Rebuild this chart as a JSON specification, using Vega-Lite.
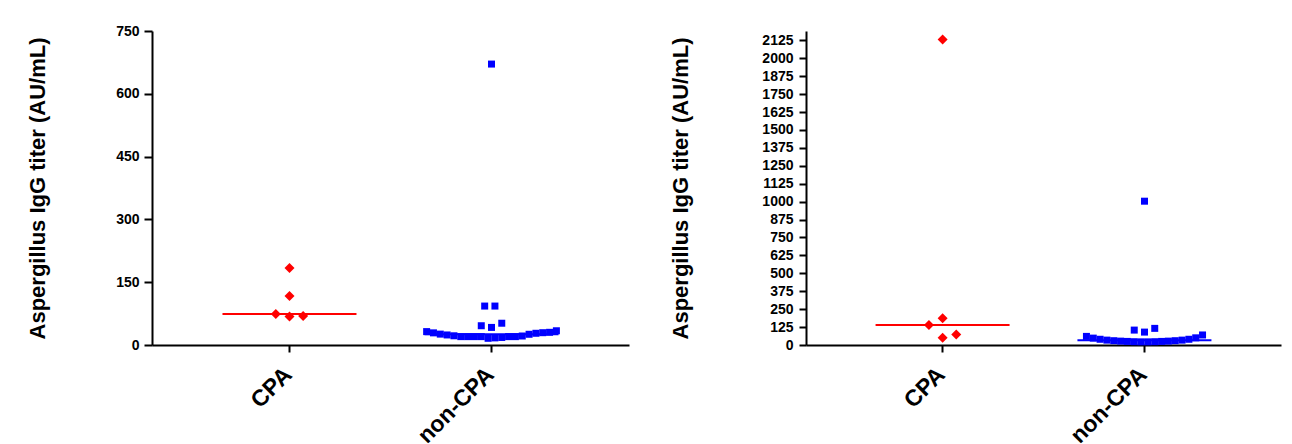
{
  "$schema": "https://vega.github.io/schema/vega-lite/v6.json",
  "background": "white",
  "padding": {"left": 26, "top": 24, "right": 5, "bottom": 5},
  "config": {
    "view": {"stroke": null},
    "font": "Liberation Sans",
    "axis": {
      "grid": false,
      "domainColor": "black",
      "domainWidth": 2,
      "tickColor": "black",
      "tickWidth": 2,
      "labelColor": "black",
      "labelFont": "Liberation Sans",
      "labelFontWeight": "bold",
      "titleColor": "black",
      "titleFont": "Liberation Sans",
      "titleFontWeight": "bold"
    }
  },
  "datasets": {
    "left": [
      {"group": "CPA", "slot": 0, "value": 184},
      {"group": "CPA", "slot": 0, "value": 117},
      {"group": "CPA", "slot": -4, "value": 74},
      {"group": "CPA", "slot": 0, "value": 68},
      {"group": "CPA", "slot": 4, "value": 69},
      {"group": "non-CPA", "slot": 0, "value": 671},
      {"group": "non-CPA", "slot": -2, "value": 93},
      {"group": "non-CPA", "slot": 1, "value": 93},
      {"group": "non-CPA", "slot": -3, "value": 46},
      {"group": "non-CPA", "slot": 0, "value": 42},
      {"group": "non-CPA", "slot": 3, "value": 52},
      {"group": "non-CPA", "slot": -19, "value": 32},
      {"group": "non-CPA", "slot": -17, "value": 29},
      {"group": "non-CPA", "slot": -15, "value": 26},
      {"group": "non-CPA", "slot": -13, "value": 24},
      {"group": "non-CPA", "slot": -11, "value": 22},
      {"group": "non-CPA", "slot": -9, "value": 20},
      {"group": "non-CPA", "slot": -7, "value": 20},
      {"group": "non-CPA", "slot": -5, "value": 20},
      {"group": "non-CPA", "slot": -3, "value": 20},
      {"group": "non-CPA", "slot": -1, "value": 16},
      {"group": "non-CPA", "slot": 1, "value": 17},
      {"group": "non-CPA", "slot": 3, "value": 18},
      {"group": "non-CPA", "slot": 5, "value": 20},
      {"group": "non-CPA", "slot": 7, "value": 20},
      {"group": "non-CPA", "slot": 9, "value": 21.5},
      {"group": "non-CPA", "slot": 11, "value": 25.6},
      {"group": "non-CPA", "slot": 13, "value": 28},
      {"group": "non-CPA", "slot": 15, "value": 29.4},
      {"group": "non-CPA", "slot": 17, "value": 30.3},
      {"group": "non-CPA", "slot": 19, "value": 34}
    ],
    "right": [
      {"group": "CPA", "slot": 0, "value": 2130},
      {"group": "CPA", "slot": 0, "value": 186},
      {"group": "CPA", "slot": -4, "value": 139},
      {"group": "CPA", "slot": 0, "value": 51},
      {"group": "CPA", "slot": 4, "value": 74},
      {"group": "non-CPA", "slot": 0, "value": 1003},
      {"group": "non-CPA", "slot": -3, "value": 104},
      {"group": "non-CPA", "slot": 3, "value": 116},
      {"group": "non-CPA", "slot": 0, "value": 90},
      {"group": "non-CPA", "slot": -17, "value": 60},
      {"group": "non-CPA", "slot": -15, "value": 48},
      {"group": "non-CPA", "slot": -13, "value": 40},
      {"group": "non-CPA", "slot": -11, "value": 34},
      {"group": "non-CPA", "slot": -9, "value": 30},
      {"group": "non-CPA", "slot": -7, "value": 27},
      {"group": "non-CPA", "slot": -5, "value": 25},
      {"group": "non-CPA", "slot": -3, "value": 23},
      {"group": "non-CPA", "slot": -1, "value": 22},
      {"group": "non-CPA", "slot": 1, "value": 22},
      {"group": "non-CPA", "slot": 3, "value": 23},
      {"group": "non-CPA", "slot": 5, "value": 25},
      {"group": "non-CPA", "slot": 7, "value": 27},
      {"group": "non-CPA", "slot": 9, "value": 30},
      {"group": "non-CPA", "slot": 11, "value": 34},
      {"group": "non-CPA", "slot": 13, "value": 40},
      {"group": "non-CPA", "slot": 15, "value": 50},
      {"group": "non-CPA", "slot": 17, "value": 70}
    ]
  },
  "bounds": "flush",
  "spacing": 177,
  "hconcat": [
    {
      "width": 477,
      "height": 314,
      "data": {"name": "left"},
      "encoding": {
        "x": {
          "field": "group", "type": "nominal",
          "scale": {"domain": ["CPA", "non-CPA"], "paddingInner": 0.307, "paddingOuter": 0.334},
          "axis": {"title": null, "labelAngle": -45, "labelFontSize": 23, "tickSize": 7, "labelPadding": 11, "labelOffset": -9}
        },
        "color": {"field": "group", "type": "nominal", "scale": {"domain": ["CPA", "non-CPA"], "range": ["#FF0000", "#0000FF"]}, "legend": null}
      },
      "layer": [
        {
          "mark": {"type": "tick", "size": 134, "thickness": 2, "opacity": 1},
          "encoding": {
            "y": {"aggregate": "median", "field": "value", "type": "quantitative",
              "scale": {"domain": [0, 750], "nice": false},
              "axis": {"title": "Aspergillus IgG titer (AU/mL)", "values": [0, 150, 300, 450, 600, 750], "format": "d", "tickSize": 8, "labelPadding": 5, "labelFontSize": 14, "titleFontSize": 22, "titlePadding": 66}}
          }
        },
        {
          "mark": {"type": "point", "filled": true, "opacity": 1},
          "encoding": {
            "y": {"field": "value", "type": "quantitative",
              "scale": {"domain": [0, 750], "nice": false},
              "axis": {"title": "Aspergillus IgG titer (AU/mL)", "values": [0, 150, 300, 450, 600, 750], "format": "d", "tickSize": 8, "labelPadding": 5, "labelFontSize": 14, "titleFontSize": 22, "titlePadding": 66}},
            "xOffset": {"field": "slot", "type": "nominal", "scale": {"domain": [-20,-19,-18,-17,-16,-15,-14,-13,-12,-11,-10,-9,-8,-7,-6,-5,-4,-3,-2,-1,0,1,2,3,4,5,6,7,8,9,10,11,12,13,14,15,16,17,18,19,20]}},
            "shape": {"field": "group", "type": "nominal", "scale": {"domain": ["CPA", "non-CPA"], "range": ["diamond", "square"]}, "legend": null},
            "size": {"field": "group", "type": "nominal", "scale": {"domain": ["CPA", "non-CPA"], "range": [100, 49]}, "legend": null}
          }
        }
      ]
    },
    {
      "width": 475,
      "height": 314,
      "data": {"name": "right"},
      "encoding": {
        "x": {
          "field": "group", "type": "nominal",
          "scale": {"domain": ["CPA", "non-CPA"], "paddingInner": 0.307, "paddingOuter": 0.33},
          "axis": {"title": null, "labelAngle": -45, "labelFontSize": 23, "tickSize": 7, "labelPadding": 11, "labelOffset": -9}
        },
        "color": {"field": "group", "type": "nominal", "scale": {"domain": ["CPA", "non-CPA"], "range": ["#FF0000", "#0000FF"]}, "legend": null}
      },
      "layer": [
        {
          "mark": {"type": "tick", "size": 134, "thickness": 2, "opacity": 1},
          "encoding": {
            "y": {"aggregate": "median", "field": "value", "type": "quantitative",
              "scale": {"domain": [0, 2190], "nice": false},
              "axis": {"title": "Aspergillus IgG titer (AU/mL)", "values": [0, 125, 250, 375, 500, 625, 750, 875, 1000, 1125, 1250, 1375, 1500, 1625, 1750, 1875, 2000, 2125], "format": "d", "tickSize": 7, "labelPadding": 6, "labelFontSize": 14, "titleFontSize": 22, "titlePadding": 69}}
          }
        },
        {
          "mark": {"type": "point", "filled": true, "opacity": 1},
          "encoding": {
            "y": {"field": "value", "type": "quantitative",
              "scale": {"domain": [0, 2190], "nice": false},
              "axis": {"title": "Aspergillus IgG titer (AU/mL)", "values": [0, 125, 250, 375, 500, 625, 750, 875, 1000, 1125, 1250, 1375, 1500, 1625, 1750, 1875, 2000, 2125], "format": "d", "tickSize": 7, "labelPadding": 6, "labelFontSize": 14, "titleFontSize": 22, "titlePadding": 69}},
            "xOffset": {"field": "slot", "type": "nominal", "scale": {"domain": [-20,-19,-18,-17,-16,-15,-14,-13,-12,-11,-10,-9,-8,-7,-6,-5,-4,-3,-2,-1,0,1,2,3,4,5,6,7,8,9,10,11,12,13,14,15,16,17,18,19,20]}},
            "shape": {"field": "group", "type": "nominal", "scale": {"domain": ["CPA", "non-CPA"], "range": ["diamond", "square"]}, "legend": null},
            "size": {"field": "group", "type": "nominal", "scale": {"domain": ["CPA", "non-CPA"], "range": [100, 49]}, "legend": null}
          }
        }
      ]
    }
  ]
}
